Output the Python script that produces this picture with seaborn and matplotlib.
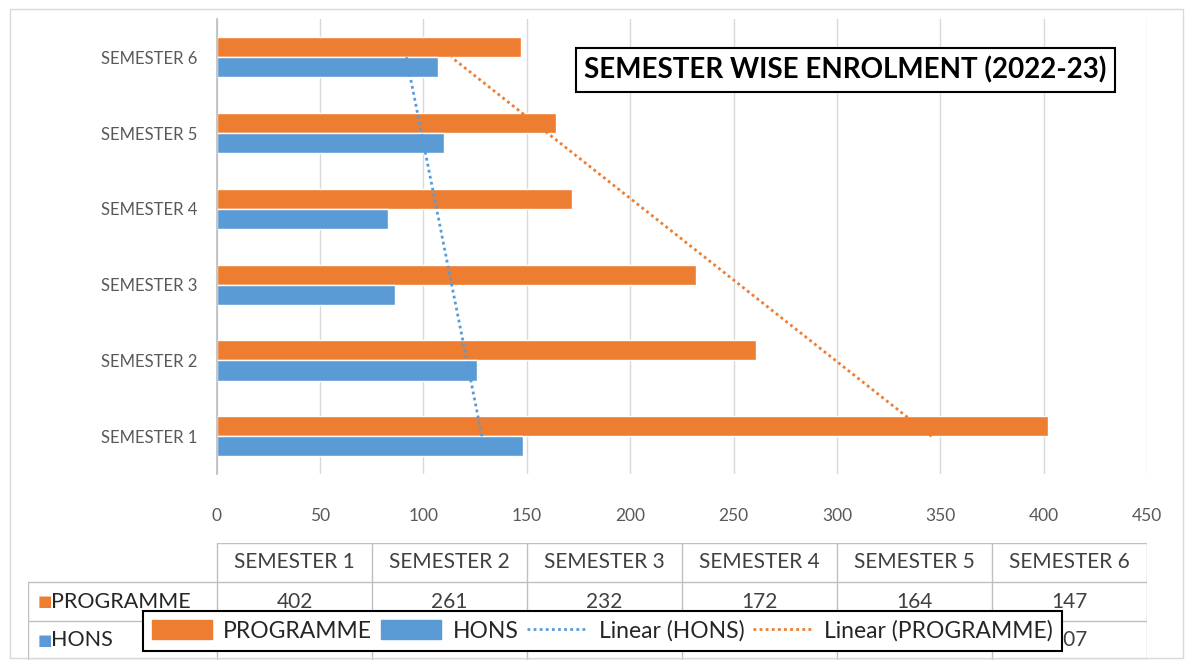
import numpy as np
import pandas as pd
import matplotlib
matplotlib.use("Agg")
import matplotlib.pyplot as plt
import seaborn as sns
from matplotlib.lines import Line2D
from matplotlib.patches import Patch, Rectangle

# data
semesters = ["SEMESTER 1", "SEMESTER 2", "SEMESTER 3", "SEMESTER 4", "SEMESTER 5", "SEMESTER 6"]
programme = [402, 261, 232, 172, 164, 147]
hons = [148, 126, 86, 83, 110, 107]
series = ["PROGRAMME", "HONS"]
xticks = [0, 50, 100, 150, 200, 250, 300, 350, 400, 450]

orange = "#ED7D31"
blue = "#5B9BD5"
grid_col = "#d9d9d9"
text_col = "#595959"

sns.set_theme(style="white")
plt.rcParams["font.family"] = ["Lato", "DejaVu Sans"]

df = pd.DataFrame({
    "semester": semesters * 2,
    "series": ["PROGRAMME"] * 6 + ["HONS"] * 6,
    "value": programme + hons,
})

fig = plt.figure(figsize=(11.91, 6.66), dpi=100)
ax = fig.add_axes([0.182, 0.288, 0.781, 0.683])

order = semesters[::-1]
sns.barplot(data=df, y="semester", x="value", hue="series", order=order,
            hue_order=series, palette=[orange, blue], width=0.53, orient="h",
            saturation=1, legend=False, ax=ax, zorder=2)

# linear trend lines
idx = np.arange(1, 7)
ypos = [order.index(s) for s in semesters]
for vals, col in [(hons, blue), (programme, orange)]:
    k, b = np.polyfit(idx, vals, 1)
    ax.plot(k * idx + b, ypos, linestyle=(0, (1, 1.2)), color=col, lw=2, zorder=3)

ax.set_xlim(0, 450)
ax.set_ylim(5.5, -0.5)
ax.set_xticks(xticks)
ax.set_xlabel("")
ax.set_ylabel("")
ax.grid(axis="x", color=grid_col, lw=1, zorder=0)
ax.set_axisbelow(True)
for s in ["top", "right", "bottom"]:
    ax.spines[s].set_visible(False)
ax.spines["left"].set_color("#bfbfbf")
ax.tick_params(axis="both", length=0, colors=text_col)
ax.tick_params(axis="x", labelsize=12.5, pad=24)
ax.tick_params(axis="y", labelsize=12, pad=14)

# title box
fig.text(0.710, 0.895, "SEMESTER WISE ENROLMENT (2022-23)", ha="center", va="center",
         fontsize=20, fontweight="bold", color="black",
         bbox=dict(boxstyle="square,pad=0.3", facecolor="white", edgecolor="black", lw=1.5))

# data table
tab = fig.add_axes([28 / 1191, 6 / 666, (1147 - 28) / 1191, 117 / 666])
left = -189 / 155
tab.set_xlim(left, 6)
tab.set_ylim(3, 0)
tab.axis("off")
lc = "#bfbfbf"
tab.plot([0, 6], [0, 0], color=lc, lw=1)
for y in [1, 2, 3]:
    tab.plot([left, 6], [y, y], color=lc, lw=1)
tab.plot([left, left], [1, 3], color=lc, lw=1)
for x in range(7):
    tab.plot([x, x], [0, 3], color=lc, lw=1)
for i, s in enumerate(semesters):
    tab.text(i + 0.5, 0.5, s, ha="center", va="center", fontsize=15, color="#404040")
    tab.text(i + 0.5, 1.5, str(programme[i]), ha="center", va="center", fontsize=15, color="#404040")
    tab.text(i + 0.5, 2.5, str(hons[i]), ha="center", va="center", fontsize=15, color="#404040")
for r, (name, col) in enumerate([("PROGRAMME", orange), ("HONS", blue)]):
    tab.text(left + 0.06, r + 1.5, "\u25a0", ha="left", va="center", fontsize=11,
             color=col, family=["DejaVu Sans"])
    tab.text(left + 0.15, r + 1.5, name, ha="left", va="center", fontsize=15.5, color="#262626")

# legend
handles = [
    Patch(facecolor=orange, edgecolor=orange),
    Patch(facecolor=blue, edgecolor=blue),
    Line2D([0], [0], color=blue, lw=2, linestyle=(0, (1, 1.2))),
    Line2D([0], [0], color=orange, lw=2, linestyle=(0, (1, 1.2))),
]
labels = ["PROGRAMME", "HONS", "Linear (HONS)", "Linear (PROGRAMME)"]
leg = fig.legend(handles, labels, ncol=4, loc="center", bbox_to_anchor=(0.506, 0.0525),
                 fontsize=16.5, frameon=True, fancybox=False, framealpha=1,
                 handlelength=2.6, handleheight=0.9, columnspacing=0.4,
                 handletextpad=0.5, borderpad=0.4)
leg.get_frame().set_edgecolor("black")
leg.get_frame().set_linewidth(1.5)
for t in leg.get_texts():
    t.set_color("#262626")

# outer chart border
fig.patches.append(Rectangle((0.008, 0.012), 0.985, 0.975, transform=fig.transFigure,
                             fill=False, edgecolor="#d9d9d9", lw=1))

fig.savefig("out.png", dpi=100)
